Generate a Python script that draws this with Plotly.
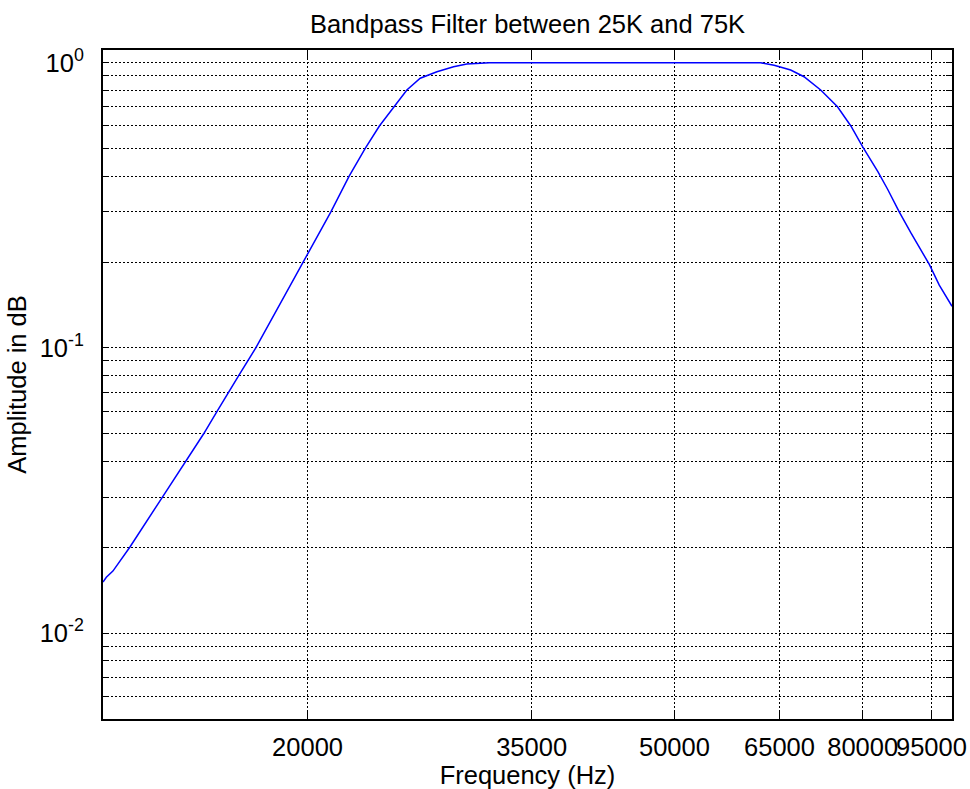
import math
import plotly.graph_objects as go

# Magnitude response of the 25 kHz - 75 kHz bandpass filter
freq_hz = [12000, 12100, 12300, 12660, 12830, 13920, 14760, 15430, 15960, 16420,
           16840, 17575, 18780, 20420, 21200, 22190, 23090, 23930, 24790, 25630,
           26500, 27630, 28800, 29770, 31500, 45000, 62000, 64130, 65750, 66840,
           69100, 72040, 75130, 77680, 80040, 83100, 85150, 87650, 90250, 94520,
           96870, 100000]
amplitude = [0.0151, 0.0157, 0.0165, 0.0187, 0.0200, 0.0300, 0.0400, 0.0500, 0.0600, 0.0700,
             0.0800, 0.1000, 0.1480, 0.2400, 0.3000, 0.4000, 0.5000, 0.6000, 0.7000, 0.8020,
             0.8820, 0.9300, 0.9680, 0.9900, 1.0000, 1.0000, 1.0000, 0.9790, 0.9560, 0.9430,
             0.8930, 0.8020, 0.7010, 0.6000, 0.5060, 0.4150, 0.3600, 0.3000, 0.2530, 0.1960,
             0.1660, 0.1400]

x_ticks = [20000, 35000, 50000, 65000, 80000, 95000]
x_tick_text = [str(v) for v in x_ticks]

# y grid / ticks at every 1..9 step of each decade, labels only on decades
y_ticks = []
y_tick_text = []
for exp in (-3, -2, -1):
    for m in range(1, 10):
        v = m * 10.0 ** exp
        if 0.005 - 1e-9 <= v <= 1.0 + 1e-9:
            y_ticks.append(round(v, 6))
            y_tick_text.append(f"10<sup>{exp}</sup>" if m == 1 else "")
y_ticks.append(1.0)
y_tick_text.append("10<sup>0</sup>")

x_range = [math.log10(12000), math.log10(100000)]
y_range = [math.log10(0.005), math.log10(1.108)]

FONT_SIZE = 25.5

fig = go.Figure()
fig.add_trace(go.Scatter(
    x=freq_hz, y=amplitude, mode="lines",
    line=dict(color="#0000FF", width=1.5),
    hoverinfo="x+y",
))

axis_common = dict(
    showline=True, linecolor="black", linewidth=2, mirror="allticks",
    ticks="inside", tickcolor="black", tickwidth=1,
    showgrid=True, gridcolor="black", gridwidth=1, griddash="2px,2px",
    zeroline=False, automargin=False, tickfont=dict(size=FONT_SIZE, color="black"),
)

fig.update_xaxes(
    type="log", range=x_range, tickmode="array", tickvals=x_ticks,
    ticktext=x_tick_text, tickangle=0, ticklen=9, ticklabelstandoff=4,
    title=dict(text="Frequency (Hz)", font=dict(size=FONT_SIZE), standoff=1),
    **axis_common,
)
fig.update_yaxes(
    type="log", range=y_range, tickmode="array", tickvals=y_ticks,
    ticktext=y_tick_text, ticklen=6, ticklabelstandoff=12,
    title=dict(text="Amplitude in dB", font=dict(size=FONT_SIZE), standoff=6),
    **axis_common,
)

fig.update_layout(
    width=970, height=789,
    margin=dict(l=103, r=18, t=50, b=70),
    paper_bgcolor="white", plot_bgcolor="white",
    font=dict(family="Liberation Sans, Arial, sans-serif", size=FONT_SIZE, color="black"),
    showlegend=False,
    title=dict(
        text="Bandpass Filter between 25K and 75K",
        x=0.5, xref="paper", xanchor="center",
        y=1, yref="paper", yanchor="bottom", pad=dict(b=17),
        font=dict(size=FONT_SIZE, color="black"),
    ),
)

fig.write_html("out.html")
